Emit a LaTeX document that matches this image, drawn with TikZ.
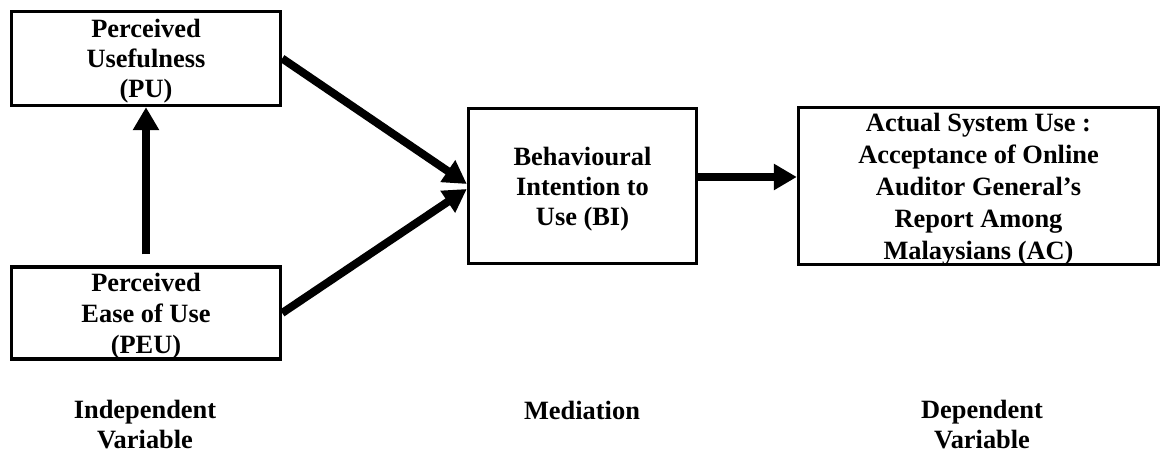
\documentclass[tikz,border=0pt]{standalone}
\usepackage{fontspec}
\setmainfont{Liberation Serif}
\usetikzlibrary{arrows.meta}
\newcommand{\padtop}[1]{\rule{0pt}{#1}}
\tikzset{
  box/.style={draw, line width=1.7pt, align=center, inner sep=0pt, text depth=0pt,
    font=\bfseries\fontsize{13.2}{16}\selectfont},
  caption/.style={align=center, font=\bfseries\fontsize{13.2}{15}\selectfont},
  link/.style={line width=4pt, -{Triangle[width=12.5pt,length=11.5pt]}},
}
\begin{document}
\begin{tikzpicture}[x=0.5pt,y=0.5pt]
  \useasboundingbox (0,0) rectangle (1169,-453);
  % construct boxes
  \node[box, minimum width=134.5pt, minimum height=47pt, font=\bfseries\fontsize{13.2}{15}\selectfont] (PU) at (146,-58.5) {Perceived\\Usefulness\\(PU)};
  \node[box, minimum width=134.5pt, minimum height=46pt, font=\bfseries\fontsize{13.2}{15.5}\selectfont] (PEU) at (146,-313) {Perceived\\Ease of Use\\(PEU)};
  \node[box, minimum width=114pt, minimum height=77.5pt, font=\bfseries\fontsize{13.2}{15}\selectfont] (BI) at (582.5,-186) {\padtop{9.6pt}Behavioural\\Intention to\\Use (BI)};
  \node[box, minimum width=180pt, minimum height=78.5pt] (AC) at (978.5,-186) {Actual System Use :\\Acceptance of Online\\Auditor General’s\\Report Among\\Malaysians (AC)};
  % paths
  \draw[link, shorten <=5.5pt] (PEU.north) -- (PU.south);
  \draw[link] (PU.east) -- ([yshift=1pt]BI.west);
  \draw[link] (PEU.east) -- ([yshift=-1.5pt]BI.west);
  \draw[link] ([yshift=4.5pt]BI.east) -- ([yshift=4.5pt]AC.west);
  % column captions
  \node[caption] (iv) at (145,-425) {Independent\\Variable};
  \node[caption] (mv) at (582,-410) {Mediation};
  \node[caption] (dv) at (982,-425) {Dependent\\Variable};
\end{tikzpicture}
\end{document}
